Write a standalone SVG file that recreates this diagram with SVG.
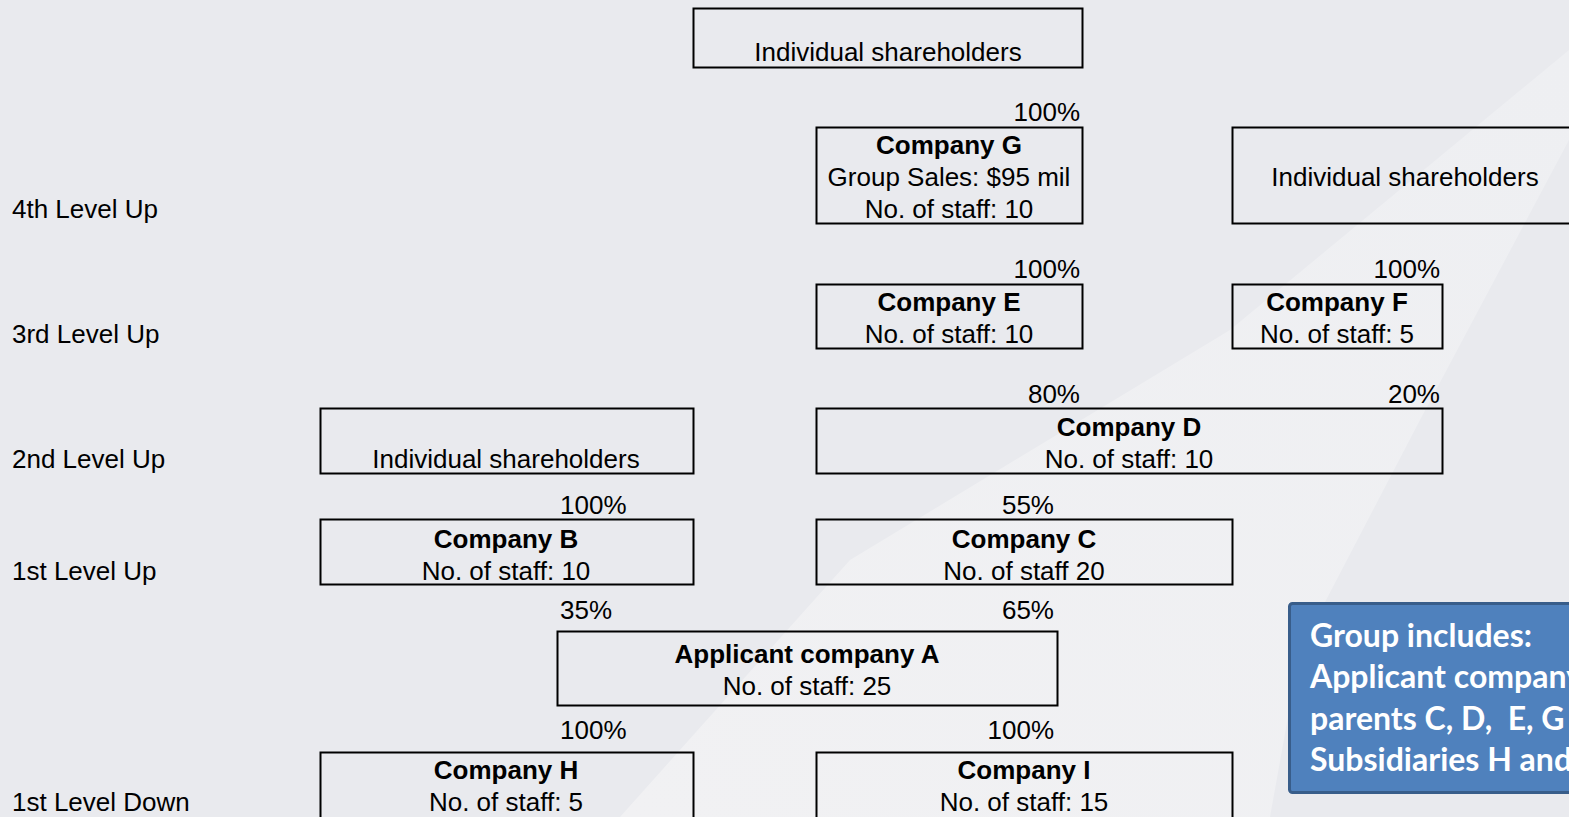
<svg xmlns="http://www.w3.org/2000/svg" width="1569" height="817" viewBox="0 0 1569 817">
<defs>
<style>
.box{fill:none;stroke:#000;stroke-width:2}
.t{font-family:"Liberation Sans",Arial,sans-serif;font-size:26px;fill:#000}
.b{font-weight:bold}
.m{text-anchor:middle}
.r{text-anchor:end}
.g{font-family:Lato,"Open Sans",sans-serif;font-weight:bold;font-size:32px;fill:#fff;white-space:pre}
</style>
<linearGradient id="beam" x1="0" y1="1" x2="1" y2="0">
<stop offset="0" stop-color="#f1f1f3"/>
<stop offset="1" stop-color="#eeeff2"/>
</linearGradient>
</defs>
<rect x="0" y="0" width="1569" height="817" fill="#e9eaee"/>
<polygon points="1569,50 1230,330 850,560 620,817 1270,817 1300,650 1420,420 1569,140" fill="url(#beam)"/>

<g id="levels">
<text class="t" x="12" y="218">4th Level Up</text>
<text class="t" x="12" y="343">3rd Level Up</text>
<text class="t" x="12" y="468">2nd Level Up</text>
<text class="t" x="12" y="580">1st Level Up</text>
<text class="t" x="12" y="811">1st Level Down</text>
</g>

<g id="connectors">
<text class="t r" x="1080" y="121">100%</text>
<text class="t r" x="1080" y="278">100%</text>
<text class="t r" x="1440" y="278">100%</text>
<text class="t r" x="1080" y="403">80%</text>
<text class="t r" x="1440" y="403">20%</text>
<text class="t" x="560" y="514">100%</text>
<text class="t r" x="1054" y="514">55%</text>
<text class="t" x="560" y="619">35%</text>
<text class="t r" x="1054" y="619">65%</text>
<text class="t" x="560" y="739">100%</text>
<text class="t r" x="1054" y="739">100%</text>
</g>

<g id="ind-top">
<rect class="box" x="693.5" y="8.5" width="389" height="59"/>
<text class="t m" x="888" y="61">Individual shareholders</text>
</g>

<g id="company-g">
<rect class="box" x="816.5" y="127.5" width="266" height="96"/>
<text class="t m b" x="949" y="154">Company G</text>
<text class="t m" x="949" y="186">Group Sales: $95 mil</text>
<text class="t m" x="949" y="218">No. of staff: 10</text>
</g>

<g id="ind-right">
<rect class="box" x="1232.5" y="127.5" width="345" height="96"/>
<text class="t m" x="1405" y="186">Individual shareholders</text>
</g>

<g id="company-e">
<rect class="box" x="816.5" y="284.5" width="266" height="64"/>
<text class="t m b" x="949" y="311">Company E</text>
<text class="t m" x="949" y="343">No. of staff: 10</text>
</g>

<g id="company-f">
<rect class="box" x="1232.5" y="284.5" width="210" height="64"/>
<text class="t m b" x="1337" y="311">Company F</text>
<text class="t m" x="1337" y="343">No. of staff: 5</text>
</g>

<g id="ind-left">
<rect class="box" x="320.5" y="408.5" width="373" height="65"/>
<text class="t m" x="506" y="468">Individual shareholders</text>
</g>

<g id="company-d">
<rect class="box" x="816.5" y="408.5" width="626" height="65"/>
<text class="t m b" x="1129" y="436">Company D</text>
<text class="t m" x="1129" y="468">No. of staff: 10</text>
</g>

<g id="company-b">
<rect class="box" x="320.5" y="519.5" width="373" height="65"/>
<text class="t m b" x="506" y="548">Company B</text>
<text class="t m" x="506" y="580">No. of staff: 10</text>
</g>

<g id="company-c">
<rect class="box" x="816.5" y="519.5" width="416" height="65"/>
<text class="t m b" x="1024" y="548">Company C</text>
<text class="t m" x="1024" y="580">No. of staff 20</text>
</g>

<g id="company-a">
<rect class="box" x="557.5" y="631.5" width="500" height="74"/>
<text class="t m b" x="807" y="663">Applicant company A</text>
<text class="t m" x="807" y="695">No. of staff: 25</text>
</g>

<g id="company-h">
<rect class="box" x="320.5" y="752.5" width="373" height="80"/>
<text class="t m b" x="506" y="779">Company H</text>
<text class="t m" x="506" y="811">No. of staff: 5</text>
</g>

<g id="company-i">
<rect class="box" x="816.5" y="752.5" width="416" height="80"/>
<text class="t m b" x="1024" y="779">Company I</text>
<text class="t m" x="1024" y="811">No. of staff: 15</text>
</g>

<g id="group-note">
<rect x="1289.5" y="603.5" width="300" height="189" rx="3" fill="#4f81bd" stroke="#385d8a" stroke-width="3"/>
<text class="g" x="1310" y="647">Group includes:</text>
<text class="g" x="1310" y="688">Applicant company</text>
<text class="g" x="1310" y="730" xml:space="preserve">parents C, D,  E, G</text>
<text class="g" x="1310" y="771">Subsidiaries H and</text>
</g>
</svg>
